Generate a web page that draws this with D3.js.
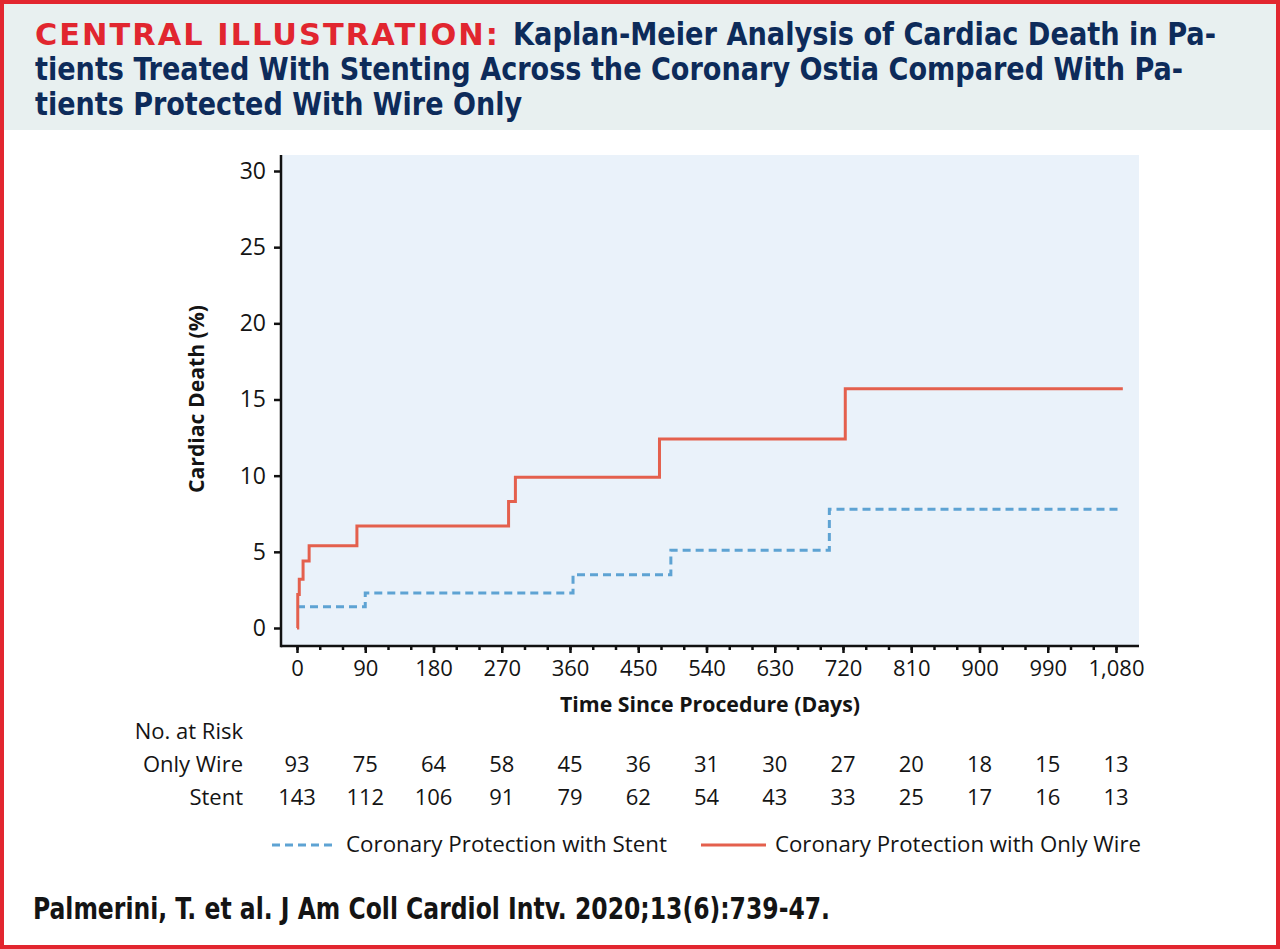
<!DOCTYPE html>
<html>
<head>
<meta charset="utf-8">
<script src="https://cdn.jsdelivr.net/npm/d3@7"></script>
<style>
  body { margin: 0; background: #fff; }
  svg { display: block; }
</style>
</head>
<body>
<div id="chart"></div>
<script>
// step data (days, cumulative %)
var wireDays = [0, 1, 3, 8, 16, 79, 279, 288, 478, 723, 1089];
var wirePct  = [0, 2.2, 3.2, 4.4, 5.4, 6.7, 8.3, 9.9, 12.4, 15.7, 15.7];
var stentDays = [0, 90, 364, 493, 702, 1085];
var stentPct  = [1.4, 2.3, 3.5, 5.1, 7.8, 7.8];

var xTicks = [0, 90, 180, 270, 360, 450, 540, 630, 720, 810, 900, 990, 1080];
var yTicks = [0, 5, 10, 15, 20, 25, 30];
var riskWire  = [93, 75, 64, 58, 45, 36, 31, 30, 27, 20, 18, 15, 13];
var riskStent = [143, 112, 106, 91, 79, 62, 54, 43, 33, 25, 17, 16, 13];

var svgWidth = 1280, svgHeight = 949;
var red = "#e4604d", blue = "#5ea3d3", navy = "#0d2b5a", border = "#e2262f";
var cond = "'DejaVu Sans Condensed', 'Liberation Sans Narrow', sans-serif";
var body = "'Open Sans', 'Noto Sans', sans-serif";
var ink = "#141414";

var svg = d3.select("#chart").append("svg")
  .attr("width", svgWidth)
  .attr("height", svgHeight);

// frame + title band
svg.append("rect").attr("width", svgWidth).attr("height", svgHeight).attr("fill", "#fff");
svg.append("rect").attr("x", 4).attr("y", 4).attr("width", 1272).attr("height", 126).attr("fill", "#e8f0f0");
svg.append("rect").attr("x", 2).attr("y", 2).attr("width", 1276).attr("height", 945)
  .attr("fill", "none").attr("stroke", border).attr("stroke-width", 4);

var t1 = svg.append("text").attr("y", 45).attr("font-weight", "bold").attr("font-size", 32);
t1.append("tspan").attr("x", 35).attr("fill", "#e1262f")
  .style("font-family", "'DejaVu Sans', sans-serif").attr("font-size", 30)
  .style("letter-spacing", "2px")
  .attr("textLength", 465).attr("lengthAdjust", "spacingAndGlyphs")
  .text("CENTRAL ILLUSTRATION:");
t1.append("tspan").attr("x", 513).attr("fill", navy).style("font-family", cond)
  .attr("textLength", 703).attr("lengthAdjust", "spacingAndGlyphs")
  .text("Kaplan-Meier Analysis of Cardiac Death in Pa-");

svg.append("text").attr("x", 35).attr("y", 80).attr("fill", navy)
  .style("font-family", cond).attr("font-weight", "bold").attr("font-size", 32)
  .attr("textLength", 1148).attr("lengthAdjust", "spacingAndGlyphs")
  .text("tients Treated With Stenting Across the Coronary Ostia Compared With Pa-");
svg.append("text").attr("x", 35).attr("y", 115).attr("fill", navy)
  .style("font-family", cond).attr("font-weight", "bold").attr("font-size", 32)
  .attr("textLength", 487).attr("lengthAdjust", "spacingAndGlyphs")
  .text("tients Protected With Wire Only");

// scales
var xScale = d3.scaleLinear().domain([0, 1080]).range([297, 1116]);
var yScale = d3.scaleLinear().domain([0, 30]).range([628, 171]);

var plotLeft = 281, plotRight = 1139, plotTop = 155, plotBottom = 646;

svg.append("rect")
  .attr("x", plotLeft).attr("y", plotTop)
  .attr("width", plotRight - plotLeft).attr("height", plotBottom - plotTop)
  .attr("fill", "#eaf2fa");

// axes
var xaxis = d3.axisBottom(xScale).tickValues(xTicks).tickSize(7).tickPadding(7)
  .tickFormat(d3.format(","));
var xMinor = d3.axisBottom(xScale).tickValues(d3.range(0, 1081, 30)).tickSize(4).tickFormat("");
var yaxis = d3.axisLeft(yScale).tickValues(yTicks).tickSize(7).tickPadding(8);

var gxMinor = svg.append("g").attr("transform", `translate(0, ${plotBottom})`).call(xMinor);
var gx = svg.append("g").attr("transform", `translate(0, ${plotBottom})`).call(xaxis);
var gy = svg.append("g").attr("transform", `translate(${plotLeft}, 0)`).call(yaxis);

[gx, gy, gxMinor].forEach(function (g) {
  g.select(".domain").remove();
  g.selectAll(".tick line").attr("stroke", "#111").attr("stroke-width", 2.5);
  g.selectAll("text").attr("fill", ink).style("font-family", body).attr("font-size", 22);
});
gy.selectAll("text").attr("font-size", 23);

svg.append("line").attr("x1", plotLeft).attr("x2", plotLeft)
  .attr("y1", plotTop).attr("y2", plotBottom + 1.25)
  .attr("stroke", "#111").attr("stroke-width", 2.5);
svg.append("line").attr("x1", plotLeft).attr("x2", plotRight)
  .attr("y1", plotBottom).attr("y2", plotBottom)
  .attr("stroke", "#111").attr("stroke-width", 2.5);

// curves
var line = d3.line()
  .x(d => xScale(d[0]))
  .y(d => yScale(d[1]))
  .curve(d3.curveStepAfter);

svg.append("path")
  .datum(d3.zip(stentDays, stentPct))
  .attr("d", line)
  .attr("fill", "none").attr("stroke", blue).attr("stroke-width", 3)
  .attr("stroke-dasharray", "8,5");

svg.append("path")
  .datum(d3.zip(wireDays, wirePct))
  .attr("d", line)
  .attr("fill", "none").attr("stroke", red).attr("stroke-width", 3);

// axis titles
svg.append("text")
  .attr("transform", "translate(204, 399) rotate(-90)")
  .attr("text-anchor", "middle")
  .style("font-family", body).attr("font-weight", "bold").attr("font-size", 21)
  .attr("fill", ink)
  .attr("textLength", 188).attr("lengthAdjust", "spacingAndGlyphs")
  .text("Cardiac Death (%)");

svg.append("text")
  .attr("x", 710).attr("y", 712)
  .attr("text-anchor", "middle")
  .style("font-family", body).attr("font-weight", "bold").attr("font-size", 21)
  .attr("fill", ink)
  .attr("textLength", 300).attr("lengthAdjust", "spacingAndGlyphs")
  .text("Time Since Procedure (Days)");

// number at risk
var riskLabels = [["No. at Risk", 739], ["Only Wire", 772], ["Stent", 805]];
riskLabels.forEach(function (r) {
  svg.append("text").attr("x", 243).attr("y", r[1]).attr("text-anchor", "end")
    .style("font-family", body).attr("font-size", 22).attr("fill", ink)
    .text(r[0]);
});

svg.selectAll(".riskWire").data(riskWire).enter().append("text")
  .attr("x", (d, i) => xScale(xTicks[i])).attr("y", 772)
  .attr("text-anchor", "middle")
  .style("font-family", body).attr("font-size", 22).attr("fill", ink)
  .text(d => d);

svg.selectAll(".riskStent").data(riskStent).enter().append("text")
  .attr("x", (d, i) => xScale(xTicks[i])).attr("y", 805)
  .attr("text-anchor", "middle")
  .style("font-family", body).attr("font-size", 22).attr("fill", ink)
  .text(d => d);

// legend
svg.append("line").attr("x1", 272).attr("x2", 334).attr("y1", 845).attr("y2", 845)
  .attr("stroke", blue).attr("stroke-width", 3).attr("stroke-dasharray", "8,5");
svg.append("text").attr("x", 346).attr("y", 852)
  .style("font-family", body).attr("font-size", 22).attr("fill", ink)
  .attr("textLength", 321).attr("lengthAdjust", "spacingAndGlyphs")
  .text("Coronary Protection with Stent");
svg.append("line").attr("x1", 701).attr("x2", 766).attr("y1", 845).attr("y2", 845)
  .attr("stroke", red).attr("stroke-width", 3);
svg.append("text").attr("x", 775).attr("y", 852)
  .style("font-family", body).attr("font-size", 22).attr("fill", ink)
  .attr("textLength", 366).attr("lengthAdjust", "spacingAndGlyphs")
  .text("Coronary Protection with Only Wire");

// citation
svg.append("text").attr("x", 33).attr("y", 919)
  .style("font-family", cond).attr("font-weight", "bold").attr("font-size", 31)
  .attr("fill", ink)
  .attr("textLength", 797).attr("lengthAdjust", "spacingAndGlyphs")
  .text("Palmerini, T. et al. J Am Coll Cardiol Intv. 2020;13(6):739-47.");
</script>
</body>
</html>
